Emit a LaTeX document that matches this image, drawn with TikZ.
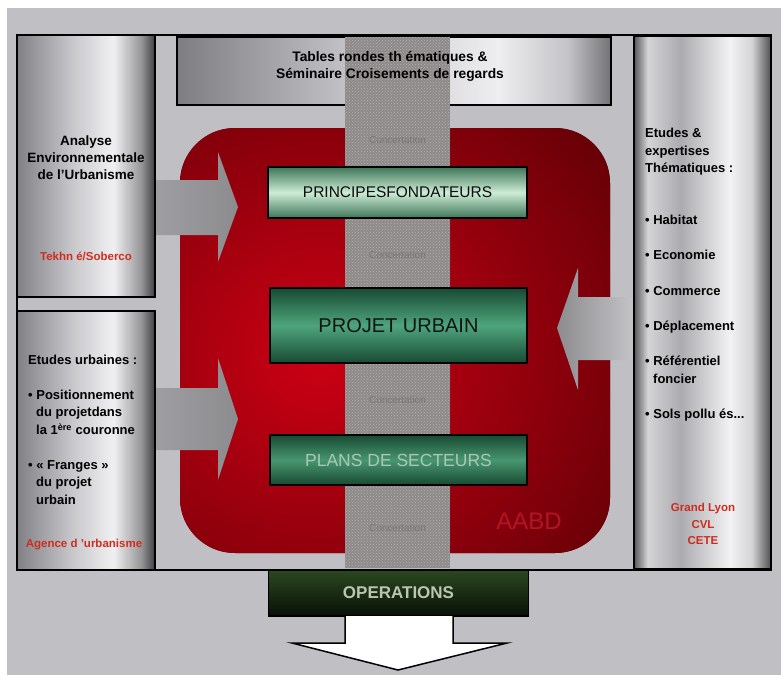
\documentclass[tikz,border=0pt]{standalone}
\usepackage{fontspec}
\setmainfont{Liberation Sans}
\usepackage{xcolor}
\usepackage{tikz}
\usetikzlibrary{patterns}

\definecolor{bggray}{RGB}{192,191,196}
\definecolor{mA}{RGB}{128,128,133}
\definecolor{mB}{RGB}{200,200,204}
\definecolor{mC}{RGB}{240,240,242}
\definecolor{mD}{RGB}{150,150,153}
\definecolor{mE}{RGB}{62,62,64}
\definecolor{rA}{RGB}{88,88,90}
\definecolor{rB}{RGB}{212,212,215}
\definecolor{rC}{RGB}{172,172,176}
\definecolor{rD}{RGB}{242,242,244}
\definecolor{rE}{RGB}{78,78,80}
\definecolor{tA}{RGB}{125,125,130}
\definecolor{tB}{RGB}{196,196,200}
\definecolor{tC}{RGB}{238,238,240}
\definecolor{tD}{RGB}{115,115,118}
\definecolor{redhi}{RGB}{205,0,20}
\definecolor{redlo}{RGB}{85,0,4}
\definecolor{stripbg}{RGB}{142,138,138}
\definecolor{stripdot}{RGB}{182,178,178}
\definecolor{conctext}{RGB}{120,118,118}
\definecolor{srcred}{RGB}{205,45,30}
\definecolor{mintedge}{RGB}{62,118,88}
\definecolor{mintmid}{RGB}{205,236,214}
\definecolor{greenedge}{RGB}{24,74,50}
\definecolor{greenmid}{RGB}{78,165,125}
\definecolor{plansmid}{RGB}{72,150,112}
\definecolor{planstext}{RGB}{170,200,180}
\definecolor{opstop}{RGB}{42,72,32}
\definecolor{opsbot}{RGB}{8,16,6}
\definecolor{opstext}{RGB}{186,198,178}
\definecolor{arrowA}{RGB}{158,158,163}
\definecolor{arrowB}{RGB}{140,140,142}
\definecolor{arrowC}{RGB}{196,196,200}
\definecolor{aabdred}{RGB}{178,22,36}

\pgfdeclarehorizontalshading{metalL}{100bp}{color(0bp)=(mA); color(25bp)=(mA); color(45bp)=(mB); color(60bp)=(mC); color(70bp)=(mD); color(75bp)=(mE); color(100bp)=(mE)}
\pgfdeclarehorizontalshading{metalR}{100bp}{color(0bp)=(rA); color(25bp)=(rA); color(30bp)=(rB); color(42bp)=(rC); color(60bp)=(rD); color(68bp)=(rB); color(75bp)=(rE); color(100bp)=(rE)}
\pgfdeclarehorizontalshading{metalT}{100bp}{color(0bp)=(tA); color(25bp)=(tA); color(45bp)=(tB); color(62bp)=(tC); color(70bp)=(tB); color(75bp)=(tD); color(100bp)=(tD)}

\begin{document}
\begin{tikzpicture}[
  x=1pt,y=-1pt,
  side/.style={draw=black,line width=2pt,shading=metalL},
  tube/.style={draw=black,line width=1.5pt,inner sep=0pt},
  lbl/.style={inner sep=0pt,font=\fontsize{13}{17.6}\selectfont\bfseries},
  srclbl/.style={inner sep=0pt,text=srcred,font=\fontsize{11.5}{16.5}\selectfont\bfseries},
  conc/.style={inner sep=0pt,text=conctext,font=\fontsize{10}{12}\selectfont}
]
\useasboundingbox[fill=white] (0,0) rectangle (781,675);
\fill[bggray] (7,8) rectangle (781,675);

% centre zone
\node[fill=redlo,rounded corners=55pt,minimum width=430pt,minimum height=425pt,
  path picture={\shade[inner color=redhi,outer color=redlo]
    ([xshift=-75pt,yshift=-15pt]path picture bounding box.center) ellipse (420pt and 400pt);}]
  (redzone) at (395,340.5) {};
\node[draw=black,line width=1.5pt,shading=metalT,minimum width=434pt,minimum height=68pt] (tables) at (394,71) {};
\node[preaction={fill=stripbg},pattern=crosshatch dots,pattern color=stripdot,
  minimum width=105pt,minimum height=531pt] (strip) at (397.5,302.5) {};
\node[draw=black,line width=2pt,minimum width=754pt,minimum height=535pt] (frame) at (394,302.5) {};

\foreach \y in {140,255,400,528}
  \node[conc] (conc\y) at (397.5,\y) {Concertation};

\node[lbl,align=center,font=\fontsize{13.8}{17}\selectfont\bfseries] (tablesT) at (390,66)
  {Tables rondes th ématiques \&\\Séminaire Croisements de regards};

% steps
\node[tube,top color=mintedge,bottom color=mintedge,middle color=mintmid,
  minimum width=259pt,minimum height=51pt,text=black!95,font=\fontsize{15.5}{18}\selectfont]
  (principes) at (397.5,192.5) {PRINCIPESFONDATEURS};
\node[tube,top color=greenedge,bottom color=greenedge,middle color=greenmid,
  minimum width=257pt,minimum height=75pt,text=black!92,font=\fontsize{20}{24}\selectfont]
  (projet) at (398.5,325.5) {PROJET URBAIN};
\node[tube,top color=greenedge,bottom color=greenedge,middle color=plansmid,
  minimum width=257pt,minimum height=50pt,text=planstext,font=\fontsize{17.5}{20}\selectfont]
  (plans) at (398.5,460) {PLANS DE SECTEURS};

% block arrows
\shade[left color=arrowA,right color=arrowB] (155,180) -- (218,180) -- (218,152) -- (238,207)
  -- (218,262) -- (218,235) -- (155,235) -- cycle;
\shade[left color=arrowA,right color=arrowB] (155,388) -- (218,388) -- (218,358) -- (238,419)
  -- (218,480) -- (218,450) -- (155,450) -- cycle;
\shade[left color=arrowB,right color=arrowC] (634,297) -- (578,297) -- (578,268) -- (557,328)
  -- (578,390) -- (578,360) -- (634,360) -- cycle;

% side boxes
\node[side,minimum width=138pt,minimum height=262pt] (analyse) at (86,166) {};
\node[lbl,align=center,font=\fontsize{13.5}{17}\selectfont\bfseries] (analyseT) at (86,158)
  {Analyse\\Environnementale\\de l'Urbanisme};
\node[srclbl] (tekhne) at (86,256) {Tekhn é/Soberco};

\node[side,minimum width=138pt,minimum height=259pt] (urbaines) at (86,440.5) {};
\node[lbl,align=left,anchor=north west] (urbainesT) at (28,355)
  {Etudes urbaines :\\[17pt]
   \textbullet\ Positionnement\\\hspace*{8pt}du projetdans\\\hspace*{8pt}la 1\textsuperscript{ère} couronne\\[17pt]
   \textbullet\ « Franges »\\\hspace*{8pt}du projet\\\hspace*{8pt}urbain};
\node[srclbl] (agence) at (84,545) {Agence d 'urbanisme};

\node[side,shading=metalR,minimum width=137pt,minimum height=533pt] (expertises) at (702.5,302.5) {};
\node[lbl,align=left,anchor=north west] (expertisesT) at (645,128)
  {Etudes \&\\expertises\\Thématiques :};
\node[lbl,align=left,anchor=north west] (themes) at (645,215)
  {\textbullet\ Habitat\\[17.6pt]\textbullet\ Economie\\[17.6pt]\textbullet\ Commerce\\[17.6pt]
   \textbullet\ Déplacement\\[17.6pt]\textbullet\ Référentiel\\\hspace*{8pt}foncier\\[17.6pt]
   \textbullet\ Sols pollu és...};
\node[srclbl,align=center] (partners) at (703,524) {Grand Lyon\\CVL\\CETE};

% maitrise d'ouvrage
\node[inner sep=0pt,text=aabdred,font=\fontsize{24}{28}\selectfont] (aabd) at (529,521) {AABD};

% sortie
\node[tube,top color=opstop,bottom color=opsbot,
  minimum width=260pt,minimum height=46pt,text=opstext,font=\fontsize{17}{20}\selectfont\bfseries]
  (operations) at (398.5,593) {OPERATIONS};
\coordinate (outTip) at (398,670);
\fill[white] (345,616) -- (345,643) -- (292,643) -- (outTip) -- (507,643) -- (453,643) -- (453,616) -- cycle;
\draw[line width=1.5pt] (345,616) -- (345,643) -- (292,643) -- (outTip) -- (507,643) -- (453,643) -- (453,616);
\end{tikzpicture}
\end{document}
